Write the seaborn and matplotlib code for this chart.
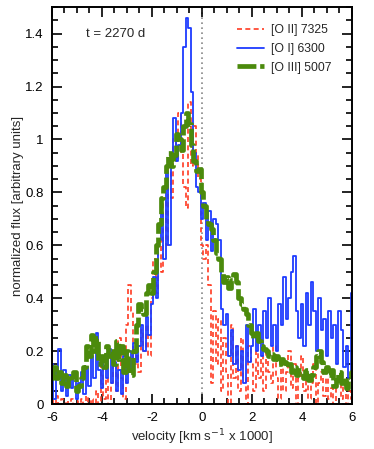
import matplotlib
matplotlib.use("Agg")
import matplotlib.pyplot as plt
from matplotlib.ticker import MultipleLocator, FormatStrFormatter
import seaborn as sns
import numpy as np

# velocity grid (km/s x 1000), 0.1 steps from -6 to 6
velocity = np.round(np.arange(-60, 61) / 10.0, 1)

flux_oi = [
    0.15, 0.02, 0.12, 0.21, 0.05, 0.13, 0.03, 0.11, 0.06, 0.12,
    0.02, 0.08, 0.12, 0.04, 0.14, 0.07, 0.18, 0.10, 0.27, 0.13,
    0.06, 0.18, 0.10, 0.21, 0.08, 0.16, 0.05, 0.13, 0.04, 0.18,
    0.08, 0.20, 0.12, 0.23, 0.16, 0.22, 0.30, 0.20, 0.33, 0.26,
    0.38, 0.48, 0.40, 0.62, 0.72, 0.55, 0.88, 0.60, 0.95, 1.08,
    0.92, 0.98, 1.10, 1.35, 1.46, 1.42, 1.18, 0.95, 0.82, 0.80,
    0.70, 0.76, 0.62, 0.73, 0.58, 0.70, 0.68, 0.62, 0.36, 0.30,
    0.34, 0.18, 0.28, 0.15, 0.22, 0.13, 0.20, 0.08, 0.30, 0.16,
    0.22, 0.36, 0.20, 0.30, 0.18, 0.35, 0.25, 0.40, 0.22, 0.30,
    0.20, 0.38, 0.30, 0.48, 0.32, 0.40, 0.50, 0.56, 0.35, 0.25,
    0.38, 0.22, 0.42, 0.30, 0.46, 0.35, 0.20, 0.40, 0.28, 0.32,
    0.18, 0.35, 0.25, 0.30, 0.15, 0.35, 0.28, 0.14, 0.22, 0.10,
    0.42,
]

flux_oii = [
    0.02, 0.00, 0.03, 0.00, 0.02, 0.00, 0.01, 0.00, 0.02, 0.00,
    0.01, 0.00, 0.02, 0.00, 0.03, 0.00, 0.02, 0.00, 0.05, 0.00,
    0.15, 0.02, 0.10, 0.00, 0.08, 0.20, 0.05, 0.25, 0.10, 0.02,
    0.30, 0.45, 0.35, 0.15, 0.22, 0.12, 0.28, 0.20, 0.30, 0.18,
    0.40, 0.55, 0.42, 0.62, 0.50, 0.78, 0.60, 0.90, 0.78, 1.00,
    0.92, 1.10, 0.95, 0.82, 0.74, 1.14, 0.90, 1.05, 0.95, 0.85,
    0.60, 0.55, 0.60, 0.45, 0.08, 0.35, 0.15, 0.32, 0.05, 0.25,
    0.12, 0.00, 0.30, 0.10, 0.22, 0.05, 0.25, 0.10, 0.00, 0.22,
    0.15, 0.05, 0.20, 0.10, 0.18, 0.05, 0.20, 0.12, 0.08, 0.22,
    0.10, 0.02, 0.15, 0.05, 0.12, 0.20, 0.06, 0.15, 0.00, 0.10,
    0.18, 0.05, 0.10, 0.02, 0.08, 0.15, 0.00, 0.08, 0.12, 0.03,
    0.10, 0.02, 0.06, 0.00, 0.08, 0.10, 0.02, 0.07, 0.00, 0.05,
    0.02,
]

flux_oiii = [
    0.10, 0.14, 0.10, 0.12, 0.08, 0.11, 0.07, 0.10, 0.09, 0.12,
    0.05, 0.07, 0.10, 0.14, 0.22, 0.18, 0.26, 0.20, 0.25, 0.15,
    0.18, 0.14, 0.22, 0.18, 0.20, 0.15, 0.24, 0.17, 0.22, 0.12,
    0.20, 0.13, 0.11, 0.20, 0.30, 0.38, 0.36, 0.34, 0.42, 0.45,
    0.42, 0.50, 0.60, 0.68, 0.78, 0.82, 0.90, 0.95, 0.90, 0.94,
    1.02, 1.00, 0.96, 1.05, 1.10, 1.06, 0.98, 0.92, 0.88, 0.89,
    0.80, 0.75, 0.70, 0.68, 0.66, 0.62, 0.57, 0.55, 0.50, 0.46,
    0.48, 0.44, 0.47, 0.49, 0.46, 0.40, 0.38, 0.36, 0.34, 0.30,
    0.27, 0.25, 0.27, 0.24, 0.22, 0.21, 0.20, 0.18, 0.19, 0.17,
    0.18, 0.15, 0.17, 0.16, 0.14, 0.15, 0.12, 0.14, 0.11, 0.13,
    0.12, 0.10, 0.13, 0.09, 0.11, 0.14, 0.18, 0.20, 0.16, 0.12,
    0.14, 0.11, 0.13, 0.07, 0.09, 0.12, 0.08, 0.10, 0.06, 0.09,
    0.12,
]

sns.set_style("ticks")
plt.rcParams["font.family"] = ["Liberation Sans", "DejaVu Sans"]

fig = plt.figure(figsize=(3.74, 4.49), dpi=100)
ax = fig.add_axes([0.139, 0.100, 0.802, 0.884])

sns.lineplot(x=velocity, y=flux_oii, ax=ax, color="#ff3b22", lw=1.2,
             linestyle=(0, (3, 2)), drawstyle="steps-mid", label="[O II] 7325")
sns.lineplot(x=velocity, y=flux_oi, ax=ax, color="#1e3cff", lw=1.3,
             drawstyle="steps-mid", label="[O I] 6300")
sns.lineplot(x=velocity, y=flux_oiii, ax=ax, color="#4b8a0c", lw=3.4,
             linestyle=(0, (4, 0.8)), drawstyle="steps-mid", label="[O III] 5007")

ax.axvline(0, color="#888888", lw=1.2, ls=(0, (1, 2)), zorder=0)

ax.set_xlim(-6, 6)
ax.set_ylim(0, 1.5)
ax.xaxis.set_major_locator(MultipleLocator(2))
ax.xaxis.set_minor_locator(MultipleLocator(0.5))
ax.yaxis.set_major_locator(MultipleLocator(0.2))
ax.yaxis.set_minor_locator(MultipleLocator(0.05))
ax.yaxis.set_major_formatter(FormatStrFormatter("%g"))
ax.xaxis.set_major_formatter(FormatStrFormatter("%g"))
ax.tick_params(which="both", direction="in", top=True, right=True,
               labelsize=9.5, width=1.2, colors="black")
ax.tick_params(which="major", length=7, pad=6)
ax.tick_params(which="minor", length=4)
for s in ax.spines.values():
    s.set_linewidth(1.4)
    s.set_color("black")

ax.set_xlabel("velocity [km s$^{-1}$ x 1000]", fontsize=9.5, labelpad=2)
ax.set_ylabel("normalized flux [arbitrary units]", fontsize=9.5, labelpad=1)
ax.text(0.115, 0.932, "t = 2270 d", transform=ax.transAxes, fontsize=9.5,
        va="center")

ax.legend(loc="upper right", bbox_to_anchor=(0.97, 0.985), frameon=False,
          fontsize=8.8, handlelength=2.2, labelspacing=0.55, handletextpad=0.6)

fig.savefig("out.png", dpi=100)
